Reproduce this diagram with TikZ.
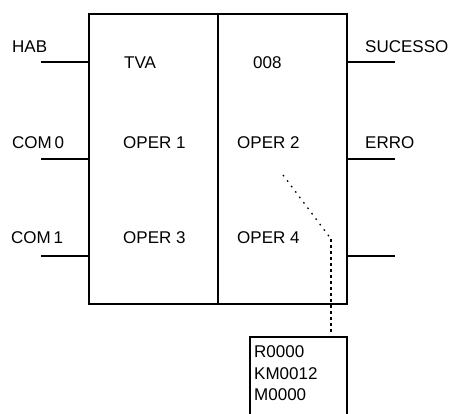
\documentclass[tikz,border=0pt]{standalone}
\usepackage{fontspec}
\setmainfont{Liberation Sans}
\begin{document}
\begin{tikzpicture}[x=1pt,y=-1pt,
  lbl/.style={anchor=base west,inner sep=0pt,font=\fontsize{17}{21.5}\selectfont},
  wire/.style={line width=1.2pt},
  dots/.style={line width=1.3pt,dash pattern=on 1.6pt off 5.2pt},
  dashes/.style={line width=1.3pt,dash pattern=on 3pt off 3pt}]
\useasboundingbox (0,0) rectangle (452,413);
\clip (0,0) rectangle (452,413);
% main block
\coordinate (tl) at (89,14);
\coordinate (br) at (347,304);
\coordinate (dt) at (218,14);
\coordinate (db) at (218,304);
\draw[wire] (tl) rectangle (br);
\draw[wire] (dt) -- (db);
% left leads
\coordinate (l1a) at (41,62);  \coordinate (l1b) at (89,62);
\coordinate (l2a) at (41,159); \coordinate (l2b) at (89,159);
\coordinate (l3a) at (41,256); \coordinate (l3b) at (89,256);
\draw[wire] (l1a) -- (l1b);
\draw[wire] (l2a) -- (l2b);
\draw[wire] (l3a) -- (l3b);
% right leads
\coordinate (r1a) at (347,62);  \coordinate (r1b) at (395,62);
\coordinate (r2a) at (347,159); \coordinate (r2b) at (395,159);
\coordinate (r3a) at (347,256); \coordinate (r3b) at (395,256);
\draw[wire] (r1a) -- (r1b);
\draw[wire] (r2a) -- (r2b);
\draw[wire] (r3a) -- (r3b);
% labels
\node[lbl] (hab) at (12,52) {HAB};
\node[lbl] (com0) at (12,148) {COM\,0};
\node[lbl] (com1) at (11,243) {COM\,1};
\node[lbl] (tva) at (124,68) {TVA};
\node[lbl] (op1) at (123,148) {OPER 1};
\node[lbl] (op3) at (123,243) {OPER 3};
\node[lbl] (n008) at (253,68) {008};
\node[lbl] (op2) at (237,148) {OPER 2};
\node[lbl] (op4) at (237,243) {OPER 4};
\node[lbl] (suc) at (365,52) {SUCESSO};
\node[lbl] (erro) at (365,148) {ERRO};
% parameter box
\coordinate (pbtl) at (250,337);
\coordinate (pbbr) at (347,420);
\draw[wire] (pbtl) rectangle (pbbr);
\node[lbl] (p1) at (254,357) {R0000};
\node[lbl] (p2) at (254,379) {KM0012};
\node[lbl] (p3) at (254,400) {M0000};
% dotted link
\coordinate (ds) at (283,175);
\coordinate (dk) at (331,239);
\coordinate (de) at (331,334);
\draw[dots] (ds) -- (dk);
\draw[dashes] (dk) -- (de);
\end{tikzpicture}
\end{document}
